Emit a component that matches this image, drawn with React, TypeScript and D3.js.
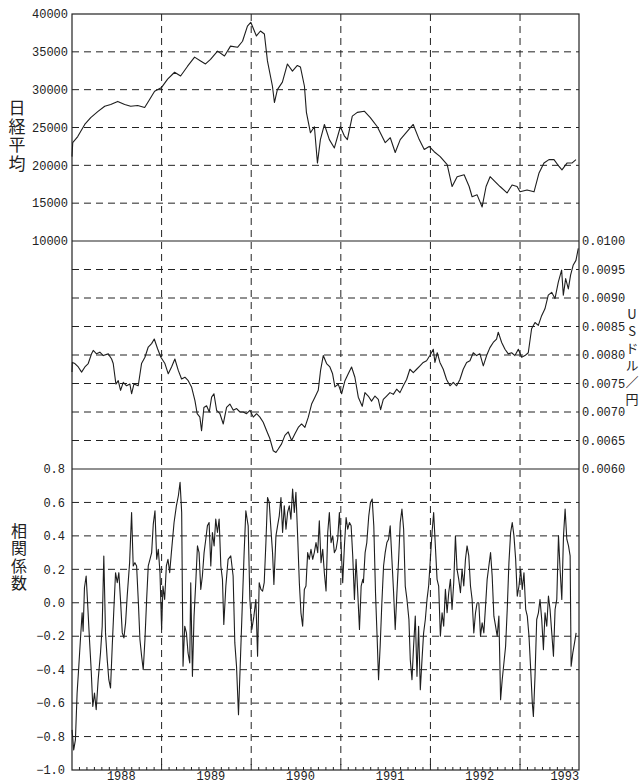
import React from 'react';
import * as d3 from 'd3';

// time in years since 1 Jan 1988, value
const nikkei: [number, number][] = [
  [0.000, 21150], [0.008, 23000], [0.064, 23800], [0.142, 25400], [0.209, 26300], [0.287, 27100],
  [0.365, 27800], [0.432, 28050], [0.510, 28450], [0.588, 28050], [0.655, 27800], [0.733, 27900],
  [0.811, 27650], [0.866, 28700], [0.922, 29800], [1.000, 30300], [1.067, 31400], [1.145, 32300],
  [1.212, 31800], [1.290, 33100], [1.368, 34300], [1.435, 33800], [1.490, 33400], [1.546, 34000],
  [1.624, 35100], [1.702, 34450], [1.769, 35750], [1.847, 35600], [1.903, 36400], [1.958, 38400],
  [1.995, 38900], [2.058, 37100], [2.103, 37750], [2.147, 37350], [2.181, 33800], [2.237, 30450],
  [2.259, 28300], [2.292, 30000], [2.348, 31000], [2.404, 33400], [2.460, 32450], [2.515, 33200],
  [2.549, 33000], [2.594, 30450], [2.616, 27000], [2.661, 24300], [2.705, 25100], [2.739, 20300],
  [2.772, 23400], [2.817, 25400], [2.872, 23400], [2.928, 22300], [2.995, 25100], [3.039, 23900],
  [3.073, 23400], [3.128, 26500], [3.184, 27000], [3.262, 27150], [3.329, 26300], [3.407, 25100],
  [3.496, 23000], [3.552, 23650], [3.607, 21700], [3.663, 23400], [3.741, 24500], [3.808, 25400],
  [3.875, 23400], [3.931, 22100], [3.986, 22500], [4.042, 21800], [4.109, 21150], [4.187, 20100],
  [4.242, 17200], [4.298, 18500], [4.376, 18750], [4.432, 17200], [4.465, 15850], [4.521, 16100],
  [4.577, 14500], [4.621, 17200], [4.666, 18500], [4.721, 17850], [4.777, 17200], [4.855, 16350],
  [4.911, 17400], [4.967, 17200], [5.000, 16500], [5.078, 16750], [5.156, 16500], [5.212, 19000],
  [5.267, 20300], [5.323, 20750], [5.379, 20750], [5.435, 19850], [5.468, 19400], [5.524, 20300],
  [5.579, 20300], [5.624, 20750],
];

const usdYen: [number, number][] = [
  [0.000, 0.00770], [0.004, 0.00787], [0.032, 0.00785], [0.070, 0.00779], [0.107, 0.00770], [0.144, 0.00779],
  [0.181, 0.00785], [0.218, 0.00802], [0.237, 0.00808], [0.274, 0.00802], [0.311, 0.00805], [0.349, 0.00799],
  [0.405, 0.00802], [0.442, 0.00793], [0.460, 0.00785], [0.490, 0.00749], [0.516, 0.00755], [0.542, 0.00738],
  [0.572, 0.00752], [0.609, 0.00746], [0.646, 0.00749], [0.665, 0.00732], [0.691, 0.00749], [0.739, 0.00746],
  [0.776, 0.00785], [0.814, 0.00796], [0.851, 0.00814], [0.888, 0.00820], [0.918, 0.00828], [0.955, 0.00811],
  [0.992, 0.00796], [1.037, 0.00785], [1.074, 0.00767], [1.111, 0.00779], [1.148, 0.00793], [1.186, 0.00773],
  [1.223, 0.00758], [1.260, 0.00761], [1.297, 0.00755], [1.334, 0.00744], [1.372, 0.00720], [1.397, 0.00697],
  [1.427, 0.00691], [1.446, 0.00667], [1.472, 0.00708], [1.502, 0.00711], [1.532, 0.00700], [1.558, 0.00726],
  [1.584, 0.00732], [1.614, 0.00703], [1.651, 0.00697], [1.688, 0.00679], [1.725, 0.00708], [1.762, 0.00714],
  [1.800, 0.00703], [1.837, 0.00706], [1.874, 0.00700], [1.911, 0.00700], [1.948, 0.00697], [1.986, 0.00703],
  [2.023, 0.00691], [2.060, 0.00697], [2.097, 0.00691], [2.134, 0.00682], [2.172, 0.00667], [2.209, 0.00653],
  [2.246, 0.00632], [2.276, 0.00629], [2.302, 0.00635], [2.339, 0.00644], [2.376, 0.00659], [2.413, 0.00665],
  [2.451, 0.00650], [2.488, 0.00662], [2.525, 0.00673], [2.562, 0.00679], [2.599, 0.00673], [2.637, 0.00691],
  [2.674, 0.00714], [2.711, 0.00726], [2.748, 0.00738], [2.774, 0.00773], [2.804, 0.00799], [2.841, 0.00785],
  [2.878, 0.00779], [2.908, 0.00767], [2.934, 0.00744], [2.971, 0.00749], [3.009, 0.00732], [3.046, 0.00755],
  [3.083, 0.00767], [3.120, 0.00779], [3.157, 0.00761], [3.195, 0.00726], [3.239, 0.00710], [3.269, 0.00734],
  [3.306, 0.00728], [3.343, 0.00719], [3.381, 0.00728], [3.418, 0.00722], [3.444, 0.00704], [3.474, 0.00722],
  [3.511, 0.00728], [3.548, 0.00734], [3.586, 0.00731], [3.623, 0.00740], [3.660, 0.00734], [3.697, 0.00746],
  [3.734, 0.00757], [3.771, 0.00775], [3.809, 0.00769], [3.846, 0.00775], [3.883, 0.00781], [3.920, 0.00787],
  [3.957, 0.00790], [3.994, 0.00799], [4.032, 0.00810], [4.050, 0.00787], [4.076, 0.00804], [4.106, 0.00787],
  [4.143, 0.00775], [4.180, 0.00757], [4.218, 0.00746], [4.255, 0.00752], [4.292, 0.00746], [4.329, 0.00757],
  [4.366, 0.00775], [4.404, 0.00787], [4.441, 0.00790], [4.478, 0.00804], [4.515, 0.00799], [4.552, 0.00802],
  [4.590, 0.00781], [4.627, 0.00799], [4.664, 0.00813], [4.701, 0.00822], [4.738, 0.00828], [4.757, 0.00840],
  [4.795, 0.00822], [4.832, 0.00810], [4.869, 0.00802], [4.906, 0.00804], [4.943, 0.00799], [4.981, 0.00810],
  [5.018, 0.00796], [5.055, 0.00799], [5.092, 0.00804], [5.129, 0.00846], [5.167, 0.00857], [5.204, 0.00852],
  [5.241, 0.00869], [5.278, 0.00881], [5.315, 0.00905], [5.353, 0.00910], [5.390, 0.00899], [5.427, 0.00928],
  [5.464, 0.00949], [5.483, 0.00905], [5.509, 0.00934], [5.539, 0.00916], [5.564, 0.00940], [5.594, 0.00958],
  [5.624, 0.00966], [5.650, 0.00987],
];

const correlation: [number, number][] = [
  [0.001, -0.76], [0.019, -0.88], [0.038, -0.82], [0.057, -0.54], [0.076, -0.38], [0.094, -0.22],
  [0.113, -0.06], [0.124, -0.17], [0.139, 0.09], [0.158, 0.16], [0.176, -0.02], [0.195, -0.22],
  [0.214, -0.40], [0.232, -0.62], [0.251, -0.54], [0.270, -0.64], [0.292, -0.46], [0.318, -0.30],
  [0.337, -0.14], [0.355, 0.28], [0.374, -0.18], [0.393, -0.34], [0.411, -0.46], [0.430, -0.51],
  [0.449, -0.26], [0.467, -0.04], [0.486, 0.18], [0.505, 0.12], [0.523, 0.18], [0.542, 0.01],
  [0.561, -0.18], [0.579, -0.21], [0.598, -0.12], [0.616, 0.04], [0.643, 0.24], [0.665, 0.54],
  [0.683, 0.22], [0.702, 0.24], [0.721, 0.22], [0.740, 0.01], [0.758, -0.22], [0.777, -0.32],
  [0.795, -0.40], [0.814, -0.22], [0.833, 0.02], [0.851, 0.22], [0.870, 0.26], [0.889, 0.30],
  [0.907, 0.47], [0.926, 0.55], [0.945, 0.26], [0.963, 0.32], [0.982, 0.18], [1.000, -0.16],
  [1.015, 0.10], [1.034, 0.02], [1.053, 0.22], [1.071, 0.26], [1.090, 0.18], [1.109, 0.30],
  [1.139, 0.48], [1.165, 0.58], [1.187, 0.64], [1.206, 0.72], [1.224, 0.54], [1.239, -0.38],
  [1.258, -0.14], [1.277, -0.18], [1.295, -0.30], [1.314, -0.36], [1.325, 0.12], [1.344, -0.44],
  [1.362, -0.08], [1.381, 0.12], [1.400, 0.34], [1.418, 0.30], [1.437, 0.08], [1.455, 0.16],
  [1.474, 0.30], [1.493, 0.38], [1.511, 0.46], [1.530, 0.48], [1.549, 0.22], [1.567, 0.42],
  [1.586, 0.34], [1.604, 0.50], [1.623, 0.42], [1.642, 0.50], [1.661, 0.22], [1.679, 0.14],
  [1.694, -0.13], [1.717, 0.10], [1.742, 0.26], [1.772, 0.28], [1.798, 0.16], [1.817, -0.24],
  [1.836, -0.38], [1.858, -0.67], [1.877, -0.38], [1.895, -0.10], [1.921, 0.30], [1.940, 0.55],
  [1.966, 0.46], [1.985, 0.02], [2.007, -0.16], [2.030, -0.08], [2.052, 0.02], [2.071, -0.32],
  [2.089, 0.12], [2.108, 0.08], [2.127, 0.07], [2.145, 0.12], [2.164, 0.36], [2.182, 0.63],
  [2.201, 0.60], [2.220, 0.44], [2.238, 0.30], [2.253, 0.11], [2.276, 0.40], [2.294, 0.46],
  [2.313, 0.52], [2.332, 0.63], [2.350, 0.42], [2.369, 0.58], [2.388, 0.44], [2.406, 0.54],
  [2.425, 0.58], [2.443, 0.50], [2.462, 0.68], [2.481, 0.54], [2.499, 0.66], [2.518, 0.40],
  [2.537, 0.12], [2.555, -0.06], [2.574, -0.14], [2.593, 0.08], [2.611, 0.10], [2.630, 0.30],
  [2.648, 0.26], [2.667, 0.32], [2.686, 0.26], [2.704, 0.30], [2.723, 0.36], [2.742, 0.30],
  [2.760, 0.49], [2.779, 0.24], [2.798, 0.32], [2.816, 0.18], [2.835, 0.07], [2.854, 0.42],
  [2.872, 0.54], [2.891, 0.36], [2.910, 0.40], [2.928, 0.30], [2.947, 0.32], [2.965, 0.38],
  [2.984, 0.54], [3.003, 0.34], [3.021, 0.12], [3.040, 0.34], [3.059, 0.51], [3.077, 0.44],
  [3.096, 0.48], [3.115, 0.46], [3.133, 0.28], [3.152, 0.02], [3.170, 0.26], [3.189, 0.06],
  [3.208, -0.16], [3.227, 0.10], [3.245, 0.14], [3.252, 0.12], [3.271, 0.30], [3.290, 0.36],
  [3.312, 0.52], [3.331, 0.60], [3.350, 0.62], [3.368, 0.46], [3.387, 0.06], [3.406, -0.22],
  [3.421, -0.46], [3.439, -0.26], [3.458, 0.00], [3.477, 0.22], [3.495, 0.30], [3.514, 0.36],
  [3.533, 0.38], [3.551, 0.46], [3.570, 0.26], [3.589, 0.06], [3.607, -0.16], [3.626, 0.06],
  [3.645, 0.26], [3.663, 0.48], [3.682, 0.56], [3.701, 0.44], [3.719, 0.10], [3.738, 0.02],
  [3.760, -0.10], [3.775, -0.34], [3.794, -0.46], [3.812, -0.26], [3.831, -0.08], [3.850, -0.44],
  [3.868, -0.14], [3.887, -0.52], [3.906, -0.34], [3.924, -0.18], [3.943, -0.10], [3.962, 0.02],
  [3.980, 0.10], [3.999, 0.26], [4.018, 0.42], [4.036, 0.54], [4.055, 0.34], [4.074, 0.14],
  [4.092, 0.10], [4.111, -0.20], [4.130, -0.06], [4.148, -0.14], [4.167, 0.08], [4.186, -0.06],
  [4.204, 0.06], [4.223, 0.14], [4.241, -0.04], [4.260, 0.12], [4.279, 0.40], [4.297, 0.20],
  [4.316, 0.14], [4.335, 0.06], [4.353, 0.20], [4.372, 0.10], [4.391, 0.26], [4.409, 0.34],
  [4.428, 0.28], [4.447, 0.10], [4.465, 0.02], [4.484, -0.18], [4.503, -0.06], [4.521, 0.00],
  [4.540, 0.00], [4.559, -0.20], [4.577, -0.12], [4.596, -0.18], [4.615, -0.02], [4.633, 0.14],
  [4.652, 0.22], [4.671, 0.30], [4.689, 0.16], [4.708, -0.08], [4.727, -0.14], [4.745, -0.20],
  [4.764, -0.08], [4.783, -0.58], [4.801, -0.46], [4.820, -0.36], [4.839, -0.26], [4.857, -0.04],
  [4.876, 0.24], [4.895, 0.42], [4.913, 0.48], [4.932, 0.40], [4.951, 0.26], [4.969, 0.04],
  [4.988, 0.10], [5.007, 0.20], [5.025, 0.08], [5.044, 0.18], [5.063, -0.04], [5.081, -0.08],
  [5.100, -0.20], [5.119, -0.40], [5.137, -0.60], [5.149, -0.68], [5.167, -0.44], [5.186, -0.10],
  [5.205, -0.06], [5.223, 0.02], [5.242, -0.10], [5.261, -0.28], [5.279, -0.06], [5.298, -0.14],
  [5.317, 0.04], [5.335, -0.04], [5.354, -0.18], [5.373, -0.32], [5.391, -0.04], [5.410, 0.02],
  [5.429, 0.40], [5.447, 0.20], [5.466, 0.02], [5.485, 0.40], [5.503, 0.56], [5.522, 0.38],
  [5.541, 0.34], [5.559, 0.28], [5.570, -0.38], [5.589, -0.30], [5.608, -0.24], [5.626, -0.18],
];

const nikkeiTicks = [10000, 15000, 20000, 25000, 30000, 35000, 40000];
const usdTicks = [0.006, 0.0065, 0.007, 0.0075, 0.008, 0.0085, 0.009, 0.0095, 0.01];
const corrTicks = [-1.0, -0.8, -0.6, -0.4, -0.2, 0.0, 0.2, 0.4, 0.6, 0.8];
const years = [1988, 1989, 1990, 1991, 1992, 1993];
const nikkeiTitle = '日経平均';
const corrTitle = '相関係数';
const usdTitle = 'USドル／円';

const INK = '#222';
const NUM_FONT = '"Liberation Mono", "DejaVu Sans Mono", monospace';
const JP_FONT = '"Noto Sans CJK JP", "Noto Sans CJK SC", sans-serif';

const vertical: React.CSSProperties = { writingMode: 'vertical-rl', textOrientation: 'upright' } as any;

export default function App() {
  const left = 72, right = 579;
  const top = 14, split1 = 241, split2 = 469, bottom = 770;

  const x = d3.scaleLinear().domain([1988, 1993.658]).range([left, right]);
  const yN = d3.scaleLinear().domain([10000, 40000]).range([split1, top]);
  const yU = d3.scaleLinear().domain([0.006, 0.01]).range([split2, split1]);
  const yC = d3.scaleLinear().domain([-1.0, 0.8]).range([bottom, split2]);

  const lineOf = (y: d3.ScaleLinear<number, number>) =>
    d3.line<[number, number]>().x(d => x(1988 + d[0])).y(d => y(d[1]));

  const fmtU = d3.format('.4f');
  const fmtC = d3.format('.1f');

  const dash = '7 5';
  const months = d3.range(1, 68).map(m => 1988 + m / 12).filter(t => t < 1993.65);

  return (
    <svg width={641} height={784} style={{ position: 'absolute', left: 0, top: 0, background: '#fff' }}>
      <rect width={641} height={784} fill="#fff" />

      {/* horizontal dashed gridlines */}
      {nikkeiTicks.slice(1, -1).map(v => (
        <line key={'gn' + v} x1={left} x2={right} y1={yN(v)} y2={yN(v)} stroke={INK} strokeDasharray={dash} />
      ))}
      {usdTicks.slice(1, -1).map(v => (
        <line key={'gu' + v} x1={left} x2={right} y1={yU(v)} y2={yU(v)} stroke={INK} strokeDasharray={dash} />
      ))}
      {corrTicks.slice(1, -1).map(v => (
        <line key={'gc' + v} x1={left} x2={right} y1={yC(v)} y2={yC(v)} stroke={INK} strokeDasharray={dash} />
      ))}

      {/* year separators */}
      {years.slice(1).map(yr => (
        <line key={'gy' + yr} x1={x(yr)} x2={x(yr)} y1={top} y2={bottom} stroke={INK} strokeDasharray={dash} />
      ))}

      {/* frame and panel splits */}
      <rect x={left} y={top} width={right - left} height={bottom - top} fill="none" stroke={INK} strokeWidth={1.2} />
      <line x1={left} x2={right} y1={split1} y2={split1} stroke={INK} strokeWidth={1.2} />
      <line x1={left} x2={right} y1={split2} y2={split2} stroke={INK} strokeWidth={1.2} />

      {/* bottom axis ticks */}
      {months.map(t => (
        <line key={'mt' + t} x1={x(t)} x2={x(t)} y1={bottom} y2={bottom - (Math.abs(t - Math.round(t)) < 0.01 ? 6 : 3)} stroke={INK} />
      ))}

      {/* data lines */}
      <path d={lineOf(yN)(nikkei) || ''} fill="none" stroke="#1e1e1e" strokeWidth={1.1} strokeLinejoin="round" />
      <path d={lineOf(yU)(usdYen) || ''} fill="none" stroke="#1e1e1e" strokeWidth={1.1} strokeLinejoin="round" />
      <path d={lineOf(yC)(correlation) || ''} fill="none" stroke="#1e1e1e" strokeWidth={1.1} strokeLinejoin="round" />

      {/* tick labels */}
      <g fontFamily={NUM_FONT} fontSize={12} fill={INK}>
        {nikkeiTicks.map(v => (
          <text key={'ln' + v} x={68} y={yN(v)} dy="0.35em" textAnchor="end">{v}</text>
        ))}
        {corrTicks.map(v => (
          <text key={'lc' + v} x={65} y={yC(v)} dy="0.35em" textAnchor="end">{fmtC(v)}</text>
        ))}
        {years.map(yr => (
          <text key={'ly' + yr} x={x(Math.min(yr + 0.55, 1993.5))} y={780} textAnchor="middle">{yr}</text>
        ))}
        {usdTicks.map(v => (
          <text key={'lu' + v} x={right + 3} y={yU(v)} dy="0.35em">{fmtU(v)}</text>
        ))}
      </g>

      {/* vertical titles */}
      <g fontFamily={JP_FONT} fill={INK}>
        <text x={17} y={99} fontSize={17} letterSpacing={1.6} style={vertical}>{nikkeiTitle}</text>
        <text x={19} y={523} fontSize={16} letterSpacing={1.4} style={vertical}>{corrTitle}</text>
        <text x={632} y={308} fontSize={13} letterSpacing={4} style={vertical}>{usdTitle}</text>
      </g>
    </svg>
  );
}
